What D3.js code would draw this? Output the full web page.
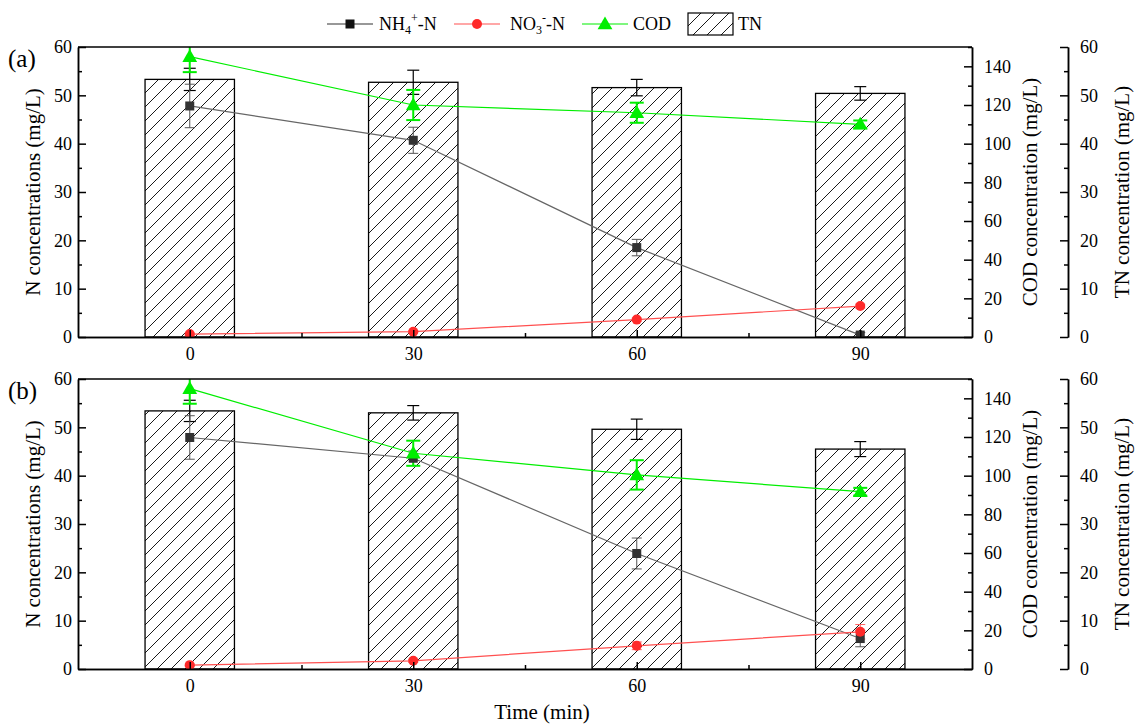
<!DOCTYPE html>
<meta charset="utf-8">
<style>
body { margin: 0; background: #fff; }
svg text { font-family: "Liberation Serif", "Times New Roman", Times, "DejaVu Serif", serif; fill: #000; }
.axis path, .axis line { stroke: #000; stroke-width: 1.5px; fill: none; }
.axis text { font-size: 18px; font-family: "Liberation Serif", "Times New Roman", Times, "DejaVu Serif", serif; }
.title { font-size: 21px; }
</style>
<body>
<script src="https://cdn.jsdelivr.net/npm/d3@7"></script>
<script>

// sampling times (min)
var times = [0, 30, 60, 90];

// panel (a)
var nh4A = [47.8, 40.7, 18.5, 0.4],   nh4ErrA = [4.5, 2.7, 1.7, 0.5];
var no3A = [0.6, 1.1, 3.6, 6.4],      no3ErrA = [0.2, 0.2, 0.3, 0.4];
var codA = [145, 120, 116, 110],      codErrA = [8, 7.8, 5.2, 2];
var tnA  = [53.3, 52.7, 51.6, 50.4],  tnErrA  = [2.3, 2.5, 1.7, 1.4];

// panel (b)
var nh4B = [47.9, 43.6, 23.9, 6.3],   nh4ErrB = [4.5, 1.5, 3.2, 1.7];
var no3B = [0.8, 1.7, 4.8, 7.7],      no3ErrB = [0.2, 0.3, 0.8, 1.5];
var codB = [145, 111.6, 100.4, 91.7], codErrB = [7.8, 6.5, 7.6, 2];
var tnB  = [53.4, 53.0, 49.6, 45.5],  tnErrB  = [2.2, 1.5, 2.1, 1.55];

var nTicks = [0, 10, 20, 30, 40, 50, 60];
var codTicks = [0, 20, 40, 60, 80, 100, 120, 140];

var W = 1137, H = 725;
var left = 78, right = 972, tnX = 1068;
var serif = "'Liberation Serif', 'Times New Roman', Times, 'DejaVu Serif', serif";

var svg = d3.select("body").append("svg")
    .attr("width", W)
    .attr("height", H)
    .attr("font-family", serif);

var defs = svg.append("defs");
defs.append("pattern")
    .attr("id", "hatch")
    .attr("patternUnits", "userSpaceOnUse")
    .attr("width", 14)
    .attr("height", 14)
  .append("path")
    .attr("d", "M0,14L14,0M-3.5,3.5L3.5,-3.5M10.5,17.5L17.5,10.5")
    .attr("stroke", "#000")
    .attr("stroke-width", 0.9);

var x = d3.scaleLinear().domain([-15, 105]).range([left, right]);
var barW = x(12) - x(0);

function panel(top, bottom, tag, nh4, nh4Err, no3, no3Err, cod, codErr, tn, tnErr) {
  var yN = d3.scaleLinear().domain([0, 60]).range([bottom, top]);
  var yC = d3.scaleLinear().domain([0, 150]).range([bottom, top]);
  var yT = d3.scaleLinear().domain([0, 60]).range([bottom, top]);
  var g = svg.append("g");

  var clipId = "clip" + tag;
  defs.append("clipPath").attr("id", clipId)
    .append("rect").attr("x", left).attr("y", top)
    .attr("width", right - left).attr("height", bottom - top);

  var data = times.map(function(t, i) {
    return {t: t, nh4: nh4[i], nh4e: nh4Err[i], no3: no3[i], no3e: no3Err[i],
            cod: cod[i], code: codErr[i], tn: tn[i], tne: tnErr[i]};
  });

  var plot = g.append("g").attr("clip-path", "url(#" + clipId + ")");

  // TN bars
  plot.selectAll(".bar")
      .data(data)
    .enter().append("rect")
      .attr("x", function(d) { return x(d.t) - barW / 2; })
      .attr("width", barW)
      .attr("y", function(d) { return yT(d.tn); })
      .attr("height", function(d) { return bottom - yT(d.tn); })
      .attr("fill", "url(#hatch)")
      .attr("stroke", "#000")
      .attr("stroke-width", 1.3);

  function errbar(key, ekey, sc, color, cap, sw) {
    var eg = plot.append("g").attr("stroke", color).attr("stroke-width", sw);
    data.forEach(function(d) {
      var cx = x(d.t), y1 = sc(d[key] + d[ekey]), y0 = sc(d[key] - d[ekey]);
      eg.append("line").attr("x1", cx).attr("x2", cx).attr("y1", y1).attr("y2", y0);
      eg.append("line").attr("x1", cx - cap).attr("x2", cx + cap).attr("y1", y1).attr("y2", y1);
      eg.append("line").attr("x1", cx - cap).attr("x2", cx + cap).attr("y1", y0).attr("y2", y0);
    });
  }

  errbar("tn", "tne", yT, "#000", 6, 1.2);

  function series(key, sc, color) {
    plot.append("path")
      .datum(data)
      .attr("fill", "none")
      .attr("stroke", color)
      .attr("stroke-width", 1.2)
      .attr("d", d3.line().x(function(d) { return x(d.t); }).y(function(d) { return sc(d[key]); }));
  }

  series("nh4", yN, "#666");
  series("no3", yN, "#ff5050");
  series("cod", yC, "#00ee00");

  errbar("nh4", "nh4e", yN, "#555", 5, 1);
  errbar("no3", "no3e", yN, "#ff6060", 5, 1);
  errbar("cod", "code", yC, "#00ee00", 7, 2);

  plot.selectAll(".sq")
      .data(data)
    .enter().append("rect")
      .attr("x", function(d) { return x(d.t) - 4.5; })
      .attr("y", function(d) { return yN(d.nh4) - 4.5; })
      .attr("width", 9).attr("height", 9)
      .attr("fill", "#333");

  plot.selectAll(".dot")
      .data(data)
    .enter().append("circle")
      .attr("cx", function(d) { return x(d.t); })
      .attr("cy", function(d) { return yN(d.no3); })
      .attr("r", 5)
      .attr("fill", "#ff2a2a");

  var tri = d3.symbol().type(d3.symbolTriangle).size(95);
  plot.selectAll(".tri")
      .data(data)
    .enter().append("path")
      .attr("d", tri)
      .attr("transform", function(d) { return "translate(" + x(d.t) + "," + (yC(d.cod) + 1) + ")"; })
      .attr("fill", "#00ee00");

  // frame top
  g.append("line").attr("x1", left).attr("x2", right).attr("y1", top).attr("y2", top)
    .attr("stroke", "#000").attr("stroke-width", 1.5);

  function ax(axis, tx, ty) {
    var a = g.append("g").attr("class", "axis")
      .attr("transform", "translate(" + tx + "," + ty + ")")
      .call(axis);
    a.attr("font-family", serif).attr("font-size", 18);
    return a;
  }

  // left axis
  ax(d3.axisLeft(yN).tickValues(nTicks).tickSize(-8).tickSizeOuter(0).tickPadding(6), left, 0);
  ax(d3.axisLeft(yN).tickValues([5, 15, 25, 35, 45, 55]).tickSize(-4).tickSizeOuter(0).tickFormat(""), left, 0);

  // bottom axis
  ax(d3.axisBottom(x).tickValues(times).tickSize(-7).tickSizeOuter(0).tickPadding(10), 0, bottom);
  ax(d3.axisBottom(x).tickValues([15, 45, 75]).tickSize(-4).tickSizeOuter(0).tickFormat(""), 0, bottom);

  // COD axis
  ax(d3.axisRight(yC).tickValues(codTicks).tickSize(-8).tickSizeOuter(0).tickPadding(12), right, 0);
  ax(d3.axisRight(yC).tickValues([10, 30, 50, 70, 90, 110, 130, 150]).tickSize(-4).tickSizeOuter(0).tickFormat(""), right, 0);

  // TN axis
  ax(d3.axisRight(yT).tickValues(nTicks).tickSize(-8).tickSizeOuter(0).tickPadding(12), tnX, 0);
  ax(d3.axisRight(yT).tickValues([5, 15, 25, 35, 45, 55]).tickSize(-4).tickSizeOuter(0).tickFormat(""), tnX, 0);

  var mid = (top + bottom) / 2;
  g.append("text").attr("class", "title")
      .attr("transform", "translate(40," + mid + ") rotate(-90)")
      .attr("text-anchor", "middle")
      .text("N concentrations (mg/L)");
  g.append("text").attr("class", "title")
      .attr("transform", "translate(1037," + mid + ") rotate(-90)")
      .attr("text-anchor", "middle")
      .text("COD concentration (mg/L)");
  g.append("text").attr("class", "title")
      .attr("transform", "translate(1129," + mid + ") rotate(-90)")
      .attr("text-anchor", "middle")
      .text("TN concentration (mg/L)");

  g.append("text")
      .attr("x", 8).attr("y", top + 20)
      .style("font-size", "25px")
      .text("(" + tag + ")");
}

panel(47, 337, "a", nh4A, nh4ErrA, no3A, no3ErrA, codA, codErrA, tnA, tnErrA);
panel(379, 669, "b", nh4B, nh4ErrB, no3B, no3ErrB, codB, codErrB, tnB, tnErrB);

svg.append("text").attr("class", "title")
    .attr("x", 542).attr("y", 719)
    .attr("text-anchor", "middle")
    .text("Time (min)");

// legend
var leg = svg.append("g").style("font-size", "18px");
var ly = 24;
function legLine(x0, color) {
  leg.append("line").attr("x1", x0).attr("x2", x0 + 46).attr("y1", ly).attr("y2", ly)
    .attr("stroke", color).attr("stroke-width", 1.2);
}
// chemical label with subscript then superscript, placed piece by piece
function chem(x0, base, sub, sup) {
  var a = leg.append("text").attr("x", x0).attr("y", ly + 6).text(base);
  var w = a.node().getComputedTextLength();
  var s = leg.append("text").attr("x", x0 + w).attr("y", ly + 10).style("font-size", "12px").text(sub);
  var sw = s.node().getComputedTextLength();
  var p = leg.append("text").attr("x", x0 + w + sw).attr("y", ly - 2).style("font-size", "12px").text(sup);
  var pw = p.node().getComputedTextLength();
  leg.append("text").attr("x", x0 + w + sw + pw).attr("y", ly + 6).text("-N");
}

legLine(327, "#333");
leg.append("rect").attr("x", 345.5).attr("y", ly - 4.5).attr("width", 9).attr("height", 9).attr("fill", "#111");
chem(379, "NH", "4", "+");

legLine(454, "#ff5050");
leg.append("circle").attr("cx", 477).attr("cy", ly).attr("r", 5).attr("fill", "#ff2a2a");
chem(510, "NO", "3", "-");

legLine(582, "#00ee00");
leg.append("path").attr("d", d3.symbol().type(d3.symbolTriangle).size(95))
  .attr("transform", "translate(605," + (ly + 1) + ")").attr("fill", "#00ee00");
leg.append("text").attr("x", 633).attr("y", ly + 6).text("COD");

leg.append("rect").attr("x", 688).attr("y", 13).attr("width", 45).attr("height", 22)
  .attr("fill", "url(#hatch)").attr("stroke", "#000").attr("stroke-width", 1.2);
leg.append("text").attr("x", 738).attr("y", ly + 6).text("TN");

</script>
